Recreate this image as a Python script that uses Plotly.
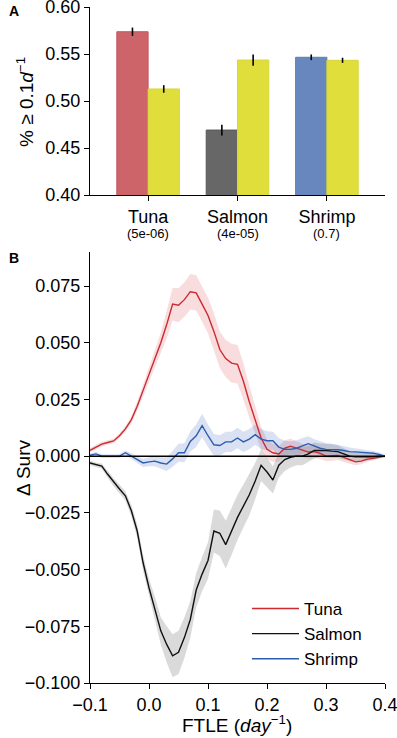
import plotly.graph_objects as go

# ---------------- Panel A data ----------------
species = ["Tuna", "Salmon", "Shrimp"]
pvals = ["(5e-06)", "(4e-05)", "(0.7)"]
frac_species = [0.5737, 0.4691, 0.5465]
frac_species_err = [0.0044, 0.0057, 0.0030]
frac_control = [0.5128, 0.5436, 0.5433]
frac_control_err = [0.0040, 0.0060, 0.0027]

# ---------------- Panel B data ----------------
ftle = [round(-0.10 + 0.01 * i, 2) for i in range(51)]
tuna = [0.0026, 0.0040, 0.0053, 0.0060, 0.0067, 0.0090, 0.0120, 0.0160, 0.0220, 0.0290,
        0.0360, 0.0430, 0.0500, 0.0580, 0.0670, 0.0665, 0.0690, 0.0725, 0.0720, 0.0670,
        0.0620, 0.0550, 0.0470, 0.0430, 0.0410, 0.0405, 0.0330, 0.0240, 0.0160, 0.0080,
        0.0030, 0.0015, 0.0010, 0.0035, 0.0044, 0.0035, 0.0025, 0.0018, 0.0020, 0.0012,
        0.0000, 0.0000, 0.0003, -0.0005, -0.0015, -0.0025, -0.0022, -0.0013, -0.0010, -0.0004,
        0.0000]
tuna_err = [0.001, 0.001, 0.001, 0.001, 0.001, 0.001, 0.0012, 0.0015, 0.002, 0.0025,
            0.003, 0.0035, 0.0045, 0.006, 0.0072, 0.0075, 0.0075, 0.0078, 0.0078, 0.0078,
            0.0078, 0.008, 0.008, 0.0082, 0.0085, 0.0085, 0.008, 0.007, 0.006, 0.005,
            0.0042, 0.004, 0.0035, 0.0035, 0.0033, 0.003, 0.003, 0.003, 0.0028, 0.0025,
            0.0022, 0.002, 0.002, 0.002, 0.0018, 0.0015, 0.0014, 0.0012, 0.001, 0.0008,
            0.0005]
salmon = [-0.0030, -0.0038, -0.0044, -0.0080, -0.0115, -0.0145, -0.0175, -0.0240, -0.0330, -0.0470,
          -0.0580, -0.0670, -0.0770, -0.0830, -0.0880, -0.0865, -0.0800, -0.0720, -0.0590, -0.0520,
          -0.0460, -0.0330, -0.0340, -0.0390, -0.0330, -0.0270, -0.0220, -0.0170, -0.0110, -0.0040,
          -0.0070, -0.0105, -0.0040, -0.0015, -0.0005, 0.0000, 0.0000, 0.0010, 0.0025, 0.0026,
          0.0025, 0.0022, 0.0020, 0.0010, 0.0000, -0.0003, -0.0003, -0.0005, -0.0003, 0.0000,
          0.0000]
salmon_err = [0.001, 0.001, 0.0012, 0.0015, 0.0018, 0.002, 0.002, 0.0025, 0.003, 0.0035,
              0.004, 0.005, 0.006, 0.008, 0.0095, 0.0095, 0.009, 0.008, 0.0075, 0.0075,
              0.008, 0.0095, 0.01, 0.0105, 0.0105, 0.01, 0.0095, 0.009, 0.008, 0.007,
              0.0065, 0.006, 0.0055, 0.005, 0.0045, 0.004, 0.004, 0.0035, 0.0035, 0.003,
              0.003, 0.003, 0.0028, 0.0025, 0.0022, 0.002, 0.0018, 0.0015, 0.0012, 0.001,
              0.0005]
shrimp = [0.0004, 0.0010, 0.0000, 0.0000, 0.0000, 0.0000, 0.0015, 0.0000, -0.0015, -0.0030,
          -0.0025, -0.0022, -0.0030, -0.0035, -0.0012, 0.0015, 0.0015, 0.0065, 0.0090, 0.0135,
          0.0090, 0.0050, 0.0047, 0.0063, 0.0063, 0.0080, 0.0063, 0.0075, 0.0095, 0.0075,
          0.0068, 0.0068, 0.0040, 0.0030, 0.0030, 0.0035, 0.0045, 0.0055, 0.0045, 0.0035,
          0.0030, 0.0030, 0.0028, 0.0025, 0.0020, 0.0019, 0.0018, 0.0016, 0.0013, 0.0008,
          0.0000]
shrimp_err = [0.0008, 0.0008, 0.0008, 0.0008, 0.0008, 0.0008, 0.001, 0.0012, 0.0015, 0.0018,
              0.002, 0.0022, 0.0025, 0.003, 0.0035, 0.004, 0.0042, 0.0045, 0.005, 0.0052,
              0.005, 0.0048, 0.0045, 0.0045, 0.0045, 0.0045, 0.0045, 0.0045, 0.0045, 0.0045,
              0.0042, 0.004, 0.004, 0.0038, 0.0036, 0.0035, 0.0035, 0.0033, 0.003, 0.003,
              0.0028, 0.0025, 0.0023, 0.002, 0.0018, 0.0016, 0.0014, 0.0012, 0.001, 0.0008,
              0.0005]

bar_colors = ["#CD6469", "#676767", "#6787BE"]
bar_edges = ["#C55560", "#5A5A5A", "#5A7DBA"]
yellow = "#E0DE3A"
yellow_edge = "#D8D63A"

FONT = "Liberation Sans, Arial, Helvetica, sans-serif"

W, H = 397, 738
def px_x(p):
    return p / W
def px_y(p):
    return 1 - p / H

fig = go.Figure()

# ---- Panel A bars ----
fig.add_trace(go.Bar(
    x=[0, 1, 2], y=frac_species, marker=dict(color=bar_colors, line=dict(color=bar_edges, width=1)),
    error_y=dict(type="data", array=frac_species_err, color="black", thickness=1.6, width=0),
    xaxis="x", yaxis="y", showlegend=False, offsetgroup="a",
))
fig.add_trace(go.Bar(
    x=[0, 1, 2], y=frac_control, marker=dict(color=yellow, line=dict(color=yellow_edge, width=1)),
    error_y=dict(type="data", array=frac_control_err, color="black", thickness=1.6, width=0),
    xaxis="x", yaxis="y", showlegend=False, offsetgroup="b",
))

# ---- Panel B bands + lines ----
series = [
    ("Tuna", tuna, tuna_err, "#CB2A2F", "rgba(214,60,70,0.18)"),
    ("Salmon", salmon, salmon_err, "#111111", "rgba(150,150,150,0.35)"),
    ("Shrimp", shrimp, shrimp_err, "#2D5DAE", "rgba(80,120,200,0.22)"),
]
for name, m, e, lc, fc in series:
    upper = [a + b for a, b in zip(m, e)]
    lower = [a - b for a, b in zip(m, e)]
    fig.add_trace(go.Scatter(
        x=ftle + ftle[::-1], y=upper + lower[::-1], fill="toself", fillcolor=fc,
        line=dict(width=0), mode="lines", hoverinfo="skip", showlegend=False,
        xaxis="x2", yaxis="y2",
    ))
for name, m, e, lc, fc in series:
    fig.add_trace(go.Scatter(
        x=ftle, y=m, mode="lines", name=name, line=dict(color=lc, width=1.4),
        xaxis="x2", yaxis="y2",
    ))

xdom = [px_x(90), px_x(385)]
axis_common = dict(showline=True, linecolor="black", linewidth=1.2, ticks="outside",
                   ticklen=5, tickwidth=1.2, tickcolor="black", showgrid=False, zeroline=False,
                   automargin=False, ticklabeloverflow="allow",
                   tickfont=dict(family=FONT, size=18, color="black"))

annots = [
    dict(text="<b>A</b>", x=px_x(7), y=px_y(11), xref="paper", yref="paper",
         showarrow=False, xanchor="left", yanchor="middle", font=dict(size=14)),
    dict(text="<b>B</b>", x=px_x(7), y=px_y(258), xref="paper", yref="paper",
         showarrow=False, xanchor="left", yanchor="middle", font=dict(size=14)),
    dict(text="% ≥ 0.1<i>d</i><sup>−1</sup>", x=px_x(25), y=px_y(102), xref="paper", yref="paper",
         showarrow=False, textangle=-90, xanchor="center", yanchor="middle", font=dict(size=19)),
    dict(text="Δ Surv", x=px_x(23), y=px_y(468), xref="paper", yref="paper",
         showarrow=False, textangle=-90, xanchor="center", yanchor="middle", font=dict(size=19)),
    dict(text="FTLE (<i>day</i><sup>−1</sup>)", x=px_x(237), y=px_y(724), xref="paper", yref="paper",
         showarrow=False, xanchor="center", yanchor="middle", font=dict(size=19)),
]
for i, p in enumerate(pvals):
    annots.append(dict(text=p, x=i, y=px_y(233), xref="x", yref="paper", showarrow=False,
                       xanchor="center", yanchor="middle", font=dict(size=13)))

fig.update_layout(
    width=W, height=H,
    margin=dict(l=0, r=0, t=0, b=0),
    plot_bgcolor="white", paper_bgcolor="white",
    font=dict(family=FONT, color="black"),
    barmode="group", bargap=0.3, bargroupgap=0,
    xaxis=dict(domain=xdom, anchor="y", range=[-0.65, 2.65],
               tickvals=[0, 1, 2], ticktext=species, **axis_common),
    yaxis=dict(domain=[px_y(195), px_y(7)], anchor="x", range=[0.40, 0.60],
               tickvals=[0.40, 0.45, 0.50, 0.55, 0.60], tickformat=".2f", **axis_common),
    xaxis2=dict(domain=xdom, anchor="y2", range=[-0.1, 0.4],
                tickvals=[-0.1, 0.0, 0.1, 0.2, 0.3, 0.4], tickformat=".1f", **axis_common),
    yaxis2=dict(domain=[px_y(683), px_y(252)], anchor="x2", range=[-0.1, 0.09],
                tickvals=[-0.1, -0.075, -0.05, -0.025, 0.0, 0.025, 0.05, 0.075],
                tickformat=".3f", **axis_common),
    legend=dict(x=px_x(247), y=px_y(591), xanchor="left", yanchor="top",
                bgcolor="rgba(0,0,0,0)", font=dict(family=FONT, size=17, color="black"),
                itemwidth=47, tracegroupgap=0),
    shapes=[dict(type="line", xref="x2", yref="y2", x0=-0.1, x1=0.4, y0=0, y1=0,
                 line=dict(color="black", width=1.5))],
    annotations=annots,
)

fig.write_html("out.html", config={"displayModeBar": False},
               post_script="document.body.style.margin='0px';document.body.style.overflow='hidden';")
